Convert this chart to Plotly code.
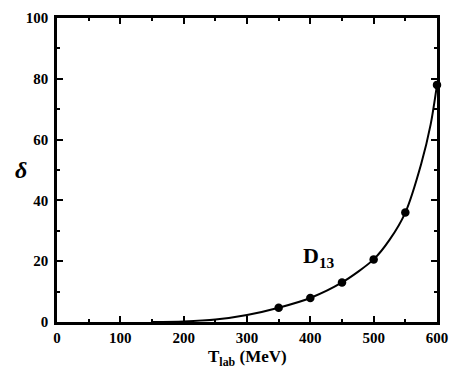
import plotly.graph_objects as go

# Phase shift of the D13 partial wave versus lab kinetic energy
t_points = [350, 400, 450, 500, 550, 600]
delta_points = [4.7, 7.9, 13.0, 20.6, 36.0, 78.0]

t_curve = [150, 200, 250, 300, 350, 400, 450, 500, 525, 550, 575, 590, 600]
delta_curve = [0.0, 0.2, 0.8, 2.3, 4.7, 7.9, 13.0, 20.6, 27.0, 36.0, 52.0, 65.0, 78.0]

x_ticks = [0, 100, 200, 300, 400, 500, 600]
y_ticks = [0, 20, 40, 60, 80, 100]

serif = "Liberation Serif"
plot_w, plot_h = 380, 304  # plotting area size in px

fig = go.Figure()
fig.add_trace(go.Scatter(
    x=t_curve, y=delta_curve, mode="lines",
    line=dict(color="black", width=2, shape="spline", smoothing=0.8),
    cliponaxis=False, showlegend=False,
))
fig.add_trace(go.Scatter(
    x=t_points, y=delta_points, mode="markers",
    marker=dict(color="black", size=8.5),
    cliponaxis=False, showlegend=False,
))

axis_common = dict(
    showgrid=False, zeroline=False, automargin=False,
    showline=True, linecolor="black", linewidth=2.5, mirror="ticks",
    ticks="inside", ticklen=6, tickwidth=1.5, tickcolor="black",
    tickfont=dict(family=serif, size=15, color="black", weight="bold"),
)

fig.update_xaxes(
    range=[0, 600], tickvals=x_ticks, ticktext=[str(v) for v in x_ticks],
    minor=dict(dtick=50, tick0=0, ticks="inside", ticklen=3, tickcolor="black"),
    ticklabelstandoff=0,
    **axis_common,
)
fig.update_yaxes(
    range=[0, 100], tickvals=y_ticks, ticktext=[str(v) for v in y_ticks],
    minor=dict(dtick=10, tick0=0, ticks="inside", ticklen=3, tickcolor="black"),
    ticklabelstandoff=3,
    **axis_common,
)

# Axis titles
fig.add_annotation(
    xref="paper", yref="paper", x=0.5, y=-36 / plot_h,
    xanchor="center", yanchor="middle", showarrow=False,
    text="T<sub>lab</sub> (MeV)",
    font=dict(family=serif, size=17, color="black", weight="bold"),
)
fig.add_annotation(
    xref="paper", yref="paper", x=-36 / plot_w, y=152 / plot_h,
    xanchor="center", yanchor="middle", showarrow=False, text="<i>δ</i>",
    font=dict(family=serif, size=24, color="black", weight="bold"),
)
# Partial-wave label
fig.add_annotation(
    x=414, y=21.5, xref="x", yref="y", showarrow=False,
    text="D<sub>13</sub>",
    font=dict(family=serif, size=22, color="black", weight="bold"),
)

fig.update_layout(
    width=451, height=372,
    margin=dict(l=57, r=14, t=18, b=50),
    paper_bgcolor="white", plot_bgcolor="white",
)

fig.write_html("out.html")
